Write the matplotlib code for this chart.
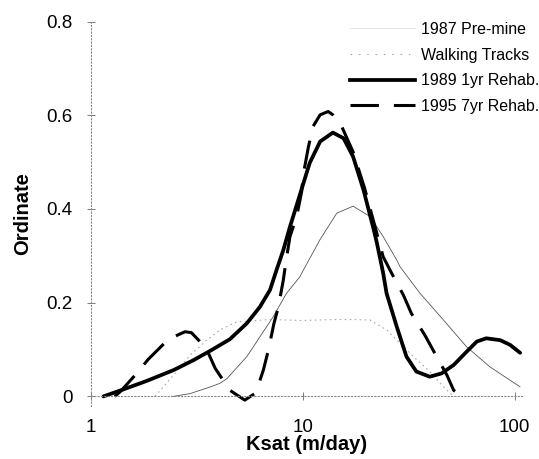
import matplotlib
matplotlib.use("Agg")
import matplotlib.pyplot as plt
from matplotlib.lines import Line2D

plt.rcParams['font.family'] = ['Liberation Sans', 'DejaVu Sans']

# ---- data ----
premine_x = [2.46, 2.95, 3.66, 4.08, 4.4, 5.46, 6.29, 7.27, 8.4, 9.7, 10.1, 12.1, 14.5, 17.3, 20.8,
             24.0, 27.8, 28.8, 35.8, 46.2, 59.3, 76.5, 106.0]
premine_y = [0.0, 0.006, 0.02, 0.028, 0.038, 0.085, 0.127, 0.17, 0.22, 0.255, 0.27, 0.335, 0.391,
             0.406, 0.384, 0.341, 0.291, 0.277, 0.22, 0.163, 0.106, 0.063, 0.0205]

walking_x = [2.01, 2.17, 2.46, 2.95, 3.53, 4.08, 4.89, 7.0, 10.0, 14.0, 17.3, 20.8, 24.9, 33.3, 39.2,
             47.0, 49.7, 52.0]
walking_y = [0.0, 0.017, 0.045, 0.088, 0.12, 0.142, 0.159, 0.164, 0.162, 0.164, 0.164, 0.163, 0.142,
             0.085, 0.056, 0.017, 0.0064, 0.0]

rehab1_x = [1.15, 1.43, 1.84, 2.46, 3.05, 3.66, 4.54, 5.46, 6.29, 7.02, 7.54, 8.11, 8.72, 9.54,
            10.4, 10.8, 12.1, 13.9, 15.6, 17.3, 19.4, 21.6, 22.4, 24.0, 24.9, 27.8, 30.9, 34.4, 39.8,
            45.2, 51.6, 59.3, 66.3, 73.5, 85.5, 95.2, 106.2]
rehab1_y = [0.0, 0.015, 0.033, 0.056, 0.077, 0.097, 0.122, 0.156, 0.191, 0.227, 0.27, 0.312,
            0.362, 0.419, 0.474, 0.498, 0.544, 0.563, 0.551, 0.512, 0.44, 0.358, 0.328, 0.263, 0.22,
            0.149, 0.085, 0.053, 0.042, 0.049, 0.067, 0.095, 0.117, 0.124, 0.12, 0.11, 0.093]

rehab7_x = [1.3, 1.38, 1.65, 1.87, 2.33, 2.79, 2.99, 3.28, 3.59, 3.87, 4.54, 5.34, 5.97, 6.07, 6.53,
            6.9, 7.33, 7.69, 8.11, 8.37, 8.72, 9.38, 9.9, 10.1, 10.66, 11.2, 12.1, 13.2, 13.9, 14.5,
            15.3, 17.3, 19.6, 22.4, 24.0, 26.3, 29.9, 32.6, 37.7, 41.7, 48.0, 51.6, 53.9]
rehab7_y = [0.0, 0.01, 0.049, 0.079, 0.122, 0.138, 0.136, 0.117, 0.093, 0.06, 0.013, -0.008, 0.0064,
            0.013, 0.056, 0.099, 0.156, 0.191, 0.248, 0.291, 0.341, 0.384, 0.437, 0.476, 0.533, 0.576,
            0.601, 0.608, 0.601, 0.59, 0.576, 0.522, 0.445, 0.348, 0.298, 0.263, 0.216, 0.177, 0.131,
            0.095, 0.045, 0.013, 0.006]

labels = ["1987 Pre-mine", "Walking Tracks", "1989 1yr Rehab.", "1995 7yr Rehab."]
x_ticks = [1, 10, 100]
x_tick_labels = ["1", "10", "100"]
y_ticks = [0, 0.2, 0.4, 0.6, 0.8]
y_tick_labels = ["0", "0.2", "0.4", "0.6", "0.8"]

# ---- figure ----
fig = plt.figure(figsize=(5.39, 4.59), dpi=100)
ax = fig.add_axes([0.168, 0.116, 0.803, 0.837])

ax.plot(premine_x, premine_y, color='#555555', lw=0.6)
ax.plot(walking_x, walking_y, color='#aaaaaa', lw=0.8, ls=(0, (1.5, 3)))
ax.plot(rehab1_x, rehab1_y, color='black', lw=2.7, solid_capstyle='round', solid_joinstyle='round')
ax.plot(rehab7_x, rehab7_y, color='black', lw=2.2, dashes=(9.3, 4.9))

ax.set_xscale('log')
ax.set_xlim(1, 110)
ax.set_ylim(-0.02, 0.8)

ax.set_xticks(x_ticks)
ax.set_xticklabels(x_tick_labels)
ax.set_yticks(y_ticks)
ax.set_yticklabels(y_tick_labels)
ax.minorticks_off()

for s in ['top', 'right']:
    ax.spines[s].set_visible(False)
ax.spines['bottom'].set_position(('data', 0))
for s in ['left', 'bottom']:
    ax.spines[s].set_linestyle((0, (1, 2)))
    ax.spines[s].set_color('#888888')
    ax.spines[s].set_linewidth(0.8)

ax.tick_params(axis='both', direction='inout', length=6, width=0.6, color='#666666',
               labelsize=13.5)
ax.tick_params(axis='y', pad=10)
ax.tick_params(axis='x', pad=13)

ax.set_xlabel("Ksat (m/day)", fontsize=14.5, fontweight='bold')
ax.xaxis.set_label_coords(0.5, -0.075)
ax.set_ylabel("Ordinate", fontsize=14.5, fontweight='bold')
ax.yaxis.set_label_coords(-0.135, 0.5)

handles = [Line2D([], [], color='#dddddd', lw=0.5),
           Line2D([], [], color='#aaaaaa', lw=0.8, ls=(0, (1.5, 6))),
           Line2D([], [], color='black', lw=2.7),
           Line2D([], [], color='black', lw=2.2, dashes=(9.3, 4.9))]
fig.legend(handles, labels, loc='upper right', bbox_to_anchor=(1.0, 0.952),
           frameon=False, fontsize=11.5, handlelength=4.06, handletextpad=0.37,
           labelspacing=0.66, borderpad=0, borderaxespad=0)

fig.savefig("out.png", dpi=100)
